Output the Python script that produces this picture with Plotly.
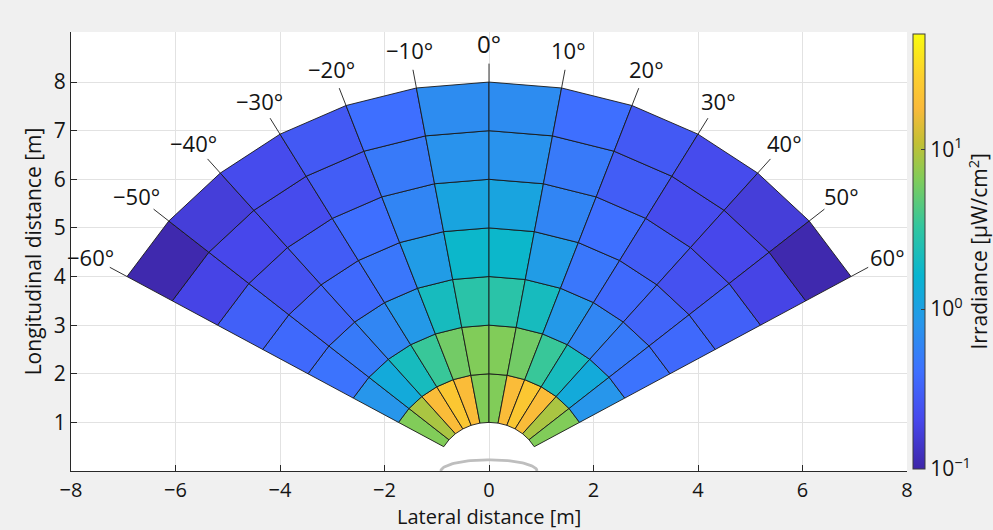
import numpy as np
import plotly.graph_objects as go
from plotly.colors import sample_colorscale

# ---------------- data ----------------
ring_edges = [1, 2, 3, 4, 5, 6, 7, 8]            # radial distance [m]
angle_edges = list(range(-60, 61, 10))           # sector boundaries [deg]
angle_labels = [("−" if a < 0 else "") + f"{abs(a)}°" for a in angle_edges]

# Irradiance [uW/cm^2]; rows = rings (1-2 m ... 7-8 m), cols = sectors (-60..-50 ... 50..60 deg)
irr_ring_1_2 = [6.5, 9.0, 19.0, 24.0, 19.0, 6.5, 6.5, 19.0, 24.0, 19.0, 9.0, 6.5]
irr_ring_2_3 = [0.81, 1.26, 2.09, 3.47, 5.75, 6.5, 6.5, 5.75, 3.47, 2.09, 1.26, 0.81]
irr_ring_3_4 = [0.43, 0.49, 0.60, 0.86, 2.09, 2.87, 2.87, 2.09, 0.86, 0.60, 0.49, 0.43]
irr_ring_4_5 = [0.36, 0.33, 0.36, 0.46, 0.92, 1.73, 1.73, 0.92, 0.46, 0.36, 0.33, 0.36]
irr_ring_5_6 = [0.31, 0.24, 0.29, 0.40, 0.59, 1.11, 1.11, 0.59, 0.40, 0.29, 0.24, 0.31]
irr_ring_6_7 = [0.19, 0.20, 0.214, 0.293, 0.487, 0.76, 0.76, 0.487, 0.293, 0.214, 0.20, 0.19]
irr_ring_7_8 = [0.106, 0.166, 0.214, 0.275, 0.40, 0.67, 0.67, 0.40, 0.275, 0.214, 0.166, 0.106]
irradiance = [irr_ring_1_2, irr_ring_2_3, irr_ring_3_4, irr_ring_4_5,
              irr_ring_5_6, irr_ring_6_7, irr_ring_7_8]

colorbar_tickvals = [-1, 0, 1]
colorbar_ticktext = ["10<sup>−1</sup>", "10<sup>0</sup>", "10<sup>1</sup>"]
clog_min, clog_max = -1.0, 1.72

x_ticks = [-8, -6, -4, -2, 0, 2, 4, 6, 8]
y_ticks = [1, 2, 3, 4, 5, 6, 7, 8]

# ---------------- styling ----------------
parula = [
    [0.000, "rgb(62,38,168)"],
    [0.111, "rgb(71,71,235)"],
    [0.222, "rgb(62,111,255)"],
    [0.333, "rgb(39,150,235)"],
    [0.444, "rgb(8,181,208)"],
    [0.556, "rgb(49,198,159)"],
    [0.667, "rgb(129,204,89)"],
    [0.750, "rgb(195,192,52)"],
    [0.830, "rgb(250,186,58)"],
    [0.900, "rgb(252,206,46)"],
    [1.000, "rgb(249,251,14)"],
]
FONT = "Open Sans"
TXT = "rgb(20,20,20)"

L, R, T, B = 71, 86, 32, 59
W, H = 993, 530
PW = W - L - R
PH = H - T - B


def pol(r, a):
    t = np.deg2rad(a)
    return r * np.sin(t), r * np.cos(t)


fig = go.Figure()

# sector cells
for i in range(len(ring_edges) - 1):
    r0, r1 = ring_edges[i], ring_edges[i + 1]
    for j in range(len(angle_edges) - 1):
        a0, a1 = angle_edges[j], angle_edges[j + 1]
        v = irradiance[i][j]
        frac = (np.log10(v) - clog_min) / (clog_max - clog_min)
        frac = min(max(frac, 0), 1)
        col = sample_colorscale(parula, [frac])[0]
        pts = [pol(r0, a0), pol(r1, a0), pol(r1, a1), pol(r0, a1), pol(r0, a0)]
        fig.add_trace(go.Scatter(
            x=[p[0] for p in pts], y=[p[1] for p in pts],
            mode="lines", fill="toself", fillcolor=col,
            line=dict(color="rgb(25,25,25)", width=0.9),
            hoverinfo="skip", showlegend=False))

# angle tick lines and labels
r_out = ring_edges[-1]
for a, lab in zip(angle_edges, angle_labels):
    p0, p1 = pol(r_out, a), pol(r_out + 0.38, a)
    fig.add_trace(go.Scatter(x=[p0[0], p1[0]], y=[p0[1], p1[1]], mode="lines",
                             line=dict(color="rgb(50,50,50)", width=1),
                             hoverinfo="skip", showlegend=False))
    pl = pol(r_out + 0.8, a)
    fig.add_annotation(x=pl[0], y=pl[1], text=lab, showarrow=False,
                       font=dict(family=FONT, size=24 if a == 0 else 22, color=TXT),
                       xanchor="center", yanchor="middle")

# vehicle outline (decoration)
phi = np.linspace(0, np.pi, 60)
fig.add_trace(go.Scatter(x=0.92 * np.cos(phi), y=0.23 * np.sin(phi), mode="lines",
                         line=dict(color="rgb(190,190,190)", width=2.8),
                         hoverinfo="skip", showlegend=False))

# colorbar carrier
fig.add_trace(go.Scatter(
    x=[None], y=[None], mode="markers", showlegend=False, hoverinfo="skip",
    marker=dict(color=[0], colorscale=parula, cmin=clog_min, cmax=clog_max,
                showscale=True,
                colorbar=dict(
                    x=(913 - L) / PW, xanchor="left", xpad=0,
                    y=0.5, yanchor="middle", ypad=0,
                    len=435 / PH, lenmode="fraction", thickness=12,
                    outlinewidth=1, outlinecolor="rgb(60,60,60)",
                    tickvals=colorbar_tickvals, ticktext=colorbar_ticktext,
                    ticks="inside", ticklen=4, tickcolor="rgb(60,60,60)",
                    tickfont=dict(family=FONT, size=21, color=TXT)))))

# colorbar title
fig.add_annotation(xref="paper", yref="paper", x=(978 - L) / PW, y=0.5,
                   text="Irradiance [µW/cm<sup>2</sup>]", textangle=-90,
                   showarrow=False, xanchor="center", yanchor="middle",
                   font=dict(family=FONT, size=21, color=TXT))

# x-axis title
fig.add_annotation(xref="paper", yref="paper", x=0.5, y=-B / PH,
                   text="Lateral distance [m]", showarrow=False,
                   xanchor="center", yanchor="bottom", yshift=-2,
                   font=dict(family=FONT, size=20, color=TXT))

fig.update_layout(
    width=W, height=H,
    margin=dict(l=L, r=R, t=T, b=B, autoexpand=False),
    paper_bgcolor="rgb(240,240,240)",
    plot_bgcolor="white",
    font=dict(family=FONT, color=TXT),
    xaxis=dict(range=[-8, 8], tickvals=x_ticks,
               ticktext=[("−" if t < 0 else "") + str(abs(t)) for t in x_ticks],
               showgrid=True, gridcolor="rgb(226,226,226)", gridwidth=1,
               zeroline=False, showline=True, linecolor="rgb(40,40,40)", linewidth=1,
               ticks="inside", ticklen=6, tickcolor="rgb(40,40,40)",
               ticklabelstandoff=1,
               tickfont=dict(family=FONT, size=20, color=TXT)),
    yaxis=dict(range=[0, 9.03], tickvals=y_ticks,
               showgrid=True, gridcolor="rgb(226,226,226)", gridwidth=1,
               zeroline=False, showline=True, linecolor="rgb(40,40,40)", linewidth=1,
               ticks="inside", ticklen=6, tickcolor="rgb(40,40,40)",
               tickfont=dict(family=FONT, size=21, color=TXT),
               title=dict(text="Longitudinal distance [m]", standoff=6,
                          font=dict(family=FONT, size=21, color=TXT))),
)

fig.write_html("out.html")
